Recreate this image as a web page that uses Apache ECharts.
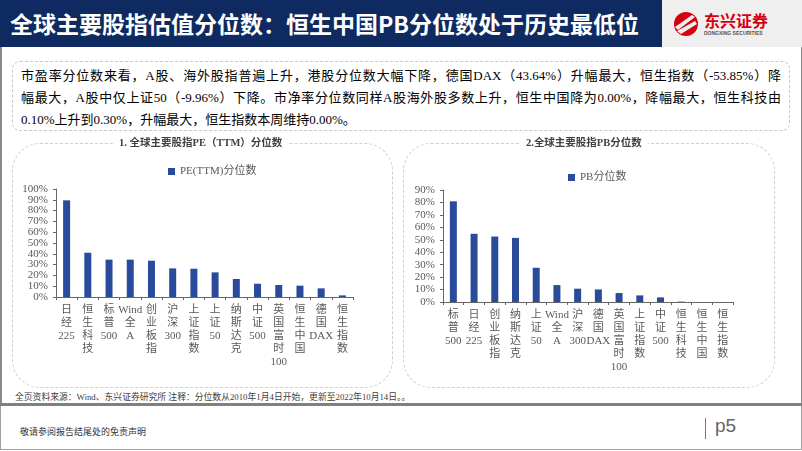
<!DOCTYPE html>
<html>
<head>
<meta charset="utf-8">
<script src="https://cdn.jsdelivr.net/npm/echarts@6/dist/echarts.min.js"></script>
<style>
  html, body { margin: 0; padding: 0; background: #fff; overflow: hidden; }
  #page { position: relative; width: 802px; height: 451px; font-family: "Liberation Serif", "Noto Sans CJK SC", serif; }
  .hd { position: absolute; left: 0; top: 0; width: 662px; height: 47px; background: #0e2a60; }
  .hd span { position: absolute; left: 10px; top: 6px; color: #fff; font: bold 23px/34px "Noto Sans CJK SC", sans-serif; letter-spacing: 0px; }
  .logo { position: absolute; left: 662px; top: 0; width: 140px; height: 47px; background: #efefef; }
  .frame { position: absolute; left: 0; top: 47px; width: 799px; height: 356px; border-left: 2px solid #8a8a8a; border-right: 1px solid #8a8a8a; }
  .note { position: absolute; left: 12px; top: 61px; width: 778px; height: 70px; box-sizing: border-box; border: 1px dashed #c8c8c8; border-radius: 8px; padding: 3px 8px 0 8px; font-size: 13px; line-height: 22px; color: #000; }
  .note div { text-align: justify; text-align-last: justify; white-space: nowrap; }
  .note div.last { text-align-last: left; }
  .panel { position: absolute; top: 143px; height: 245px; box-sizing: border-box; border: 1px dashed #cfcfcf; border-radius: 28px; }
  .src { position: absolute; left: 15px; top: 391px; font-size: 8.8px; line-height: 12px; color: #404040; white-space: nowrap; }
  .sep { position: absolute; left: 0; top: 403px; width: 802px; height: 3px; background: #808080; }
  .footbox { position: absolute; left: 0; top: 406px; width: 800px; height: 43px; border: 1px solid #a0a0a0; border-top: none; }
  .foot { position: absolute; left: 20px; top: 426px; font-size: 9px; line-height: 12px; color: #333; }
  .pgbar { position: absolute; left: 705px; top: 418px; width: 1px; height: 21px; background: #777; }
  .pg { position: absolute; left: 715px; top: 414px; font: 19px/24px "Liberation Sans", sans-serif; color: #666; }
  #chart { position: absolute; left: 0; top: 0; width: 802px; height: 451px; }
</style>
</head>
<body>
<div id="page">
  <div class="hd"><span>全球主要股指估值分位数：恒生中国PB分位数处于历史最低位</span></div>
  <div class="logo">
    <svg width="140" height="47" viewBox="0 0 140 47">
      <circle cx="24" cy="24" r="12" fill="#d7000f"/>
      <path d="M13 27 L30 15 L33 17 L16 30 Z" fill="#efefef"/>
      <path d="M15 31 L33 21 L35 24 L19 34 Z" fill="#efefef"/>
      <text x="42" y="27" font-family="Noto Sans CJK SC" font-weight="bold" font-size="16" fill="#d7000f">东兴证券</text>
      <text x="42" y="35" font-family="Liberation Sans" font-weight="bold" font-size="5" fill="#555">DONGXING SECURITIES</text>
    </svg>
  </div>
  <div class="frame"></div>
  <div class="note">
    <div>市盈率分位数来看，A股、海外股指普遍上升，港股分位数大幅下降，德国DAX（43.64%）升幅最大，恒生指数（-53.85%）降</div>
    <div>幅最大，A股中仅上证50（-9.96%）下降。市净率分位数同样A股海外股多数上升，恒生中国降为0.00%，降幅最大，恒生科技由</div>
    <div class="last">0.10%上升到0.30%，升幅最大，恒生指数本周维持0.00%。</div>
  </div>
  <div class="panel" style="left:12px;width:381px;"></div>
  <div class="panel" style="left:403px;width:372px;"></div>
  <div class="src">全页资料来源：Wind、东兴证券研究所 注释：分位数从2010年1月4日开始，更新至2022年10月14日。。</div>
  <div class="sep"></div>
  <div class="footbox"></div>
  <div class="foot">敬请参阅报告结尾处的免责声明</div>
  <div class="pgbar"></div>
  <div class="pg">p5</div>
  <div id="chart"></div>
</div>
<script>
// PE(TTM) 分位数
const peCategories = ['日经225', '恒生科技', '标普500', 'Wind全A', '创业板指', '沪深300', '上证指数', '上证50', '纳斯达克', '中证500', '英国富时100', '恒生中国', '德国DAX', '恒生指数'];
const peValues = [89.5, 41.0, 34.6, 34.6, 33.6, 26.5, 26.2, 22.8, 16.7, 12.3, 11.1, 10.5, 8.0, 1.5];
// PB 分位数
const pbCategories = ['标普500', '日经225', '创业板指', '纳斯达克', '上证50', 'Wind全A', '沪深300', '德国DAX', '英国富时100', '上证指数', '中证500', '恒生科技', '恒生中国', '恒生指数'];
const pbValues = [80.9, 54.8, 52.6, 51.5, 27.5, 13.6, 10.7, 10.1, 7.2, 5.3, 3.7, 0.3, 0, 0];
// 坐标轴刻度
const peAxisMax = 100;
const pbAxisMax = 90;
const tickStep = 10;

const FONT = '"Liberation Serif", "Noto Sans CJK SC", serif';
const BAR_COLOR = '#2a4b9b';
const TEXT_COLOR = '#595959';

// 竖排标签：汉字逐字换行，字母数字保持一段
const verticalLabel = (s) => {
  const parts = [];
  let run = '';
  for (const ch of s) {
    if (ch.charCodeAt(0) > 0x2e80) {
      if (run) { parts.push(run); run = ''; }
      parts.push(ch);
    } else {
      run += ch;
    }
  }
  if (run) parts.push(run);
  return parts.join('\n');
};

const makeXAxis = (gridIndex, data) => ({
  type: 'category',
  gridIndex,
  data,
  axisLine: { lineStyle: { color: '#666', width: 1 } },
  axisTick: { show: true, length: 3, alignWithLabel: false, lineStyle: { color: '#666' } },
  axisLabel: {
    interval: 0,
    margin: 7,
    color: TEXT_COLOR,
    fontFamily: FONT,
    fontSize: 11,
    lineHeight: 13,
    verticalAlign: 'top',
    formatter: verticalLabel
  }
});

const makeYAxis = (gridIndex, max) => ({
  type: 'value',
  gridIndex,
  min: 0,
  max,
  interval: tickStep,
  axisLine: { show: true, lineStyle: { color: '#666', width: 1 } },
  axisTick: { show: true, length: 3, lineStyle: { color: '#666' } },
  splitLine: { show: false },
  axisLabel: { margin: 8, color: TEXT_COLOR, fontFamily: FONT, fontSize: 11, formatter: '{value}%' }
});

const chart = echarts.init(document.getElementById('chart'));

const option = {
  animation: false,
  backgroundColor: 'transparent',
  title: [
    {
      text: '1. 全球主要股指PE（TTM）分位数',
      left: 113,
      top: 137,
      backgroundColor: '#fff',
      padding: [1, 6],
      textStyle: { fontFamily: FONT, fontSize: 10.5, fontWeight: 'bold', color: '#404040' }
    },
    {
      text: '2.全球主要股指PB分位数',
      left: 520,
      top: 137,
      backgroundColor: '#fff',
      padding: [1, 6],
      textStyle: { fontFamily: FONT, fontSize: 10.5, fontWeight: 'bold', color: '#404040' }
    }
  ],
  legend: [
    {
      data: ['PE(TTM)分位数'],
      left: 163,
      top: 161,
      itemWidth: 7,
      itemHeight: 7,
      itemGap: 4,
      icon: 'rect',
      textStyle: { fontFamily: FONT, fontSize: 11, color: TEXT_COLOR }
    },
    {
      data: ['PB分位数'],
      left: 563,
      top: 167,
      itemWidth: 7,
      itemHeight: 7,
      itemGap: 4,
      icon: 'rect',
      textStyle: { fontFamily: FONT, fontSize: 11, color: TEXT_COLOR }
    }
  ],
  grid: [
    { left: 56, top: 189, width: 297, height: 108, containLabel: false },
    { left: 443, top: 190, width: 290, height: 112, containLabel: false }
  ],
  xAxis: [makeXAxis(0, peCategories), makeXAxis(1, pbCategories)],
  yAxis: [makeYAxis(0, peAxisMax), makeYAxis(1, pbAxisMax)],
  series: [
    {
      name: 'PE(TTM)分位数',
      type: 'bar',
      xAxisIndex: 0,
      yAxisIndex: 0,
      barWidth: 7,
      itemStyle: { color: BAR_COLOR },
      data: peValues
    },
    {
      name: 'PB分位数',
      type: 'bar',
      xAxisIndex: 1,
      yAxisIndex: 1,
      barWidth: 7,
      itemStyle: { color: BAR_COLOR },
      data: pbValues
    }
  ]
};

chart.setOption(option);
</script>
</body>
</html>
